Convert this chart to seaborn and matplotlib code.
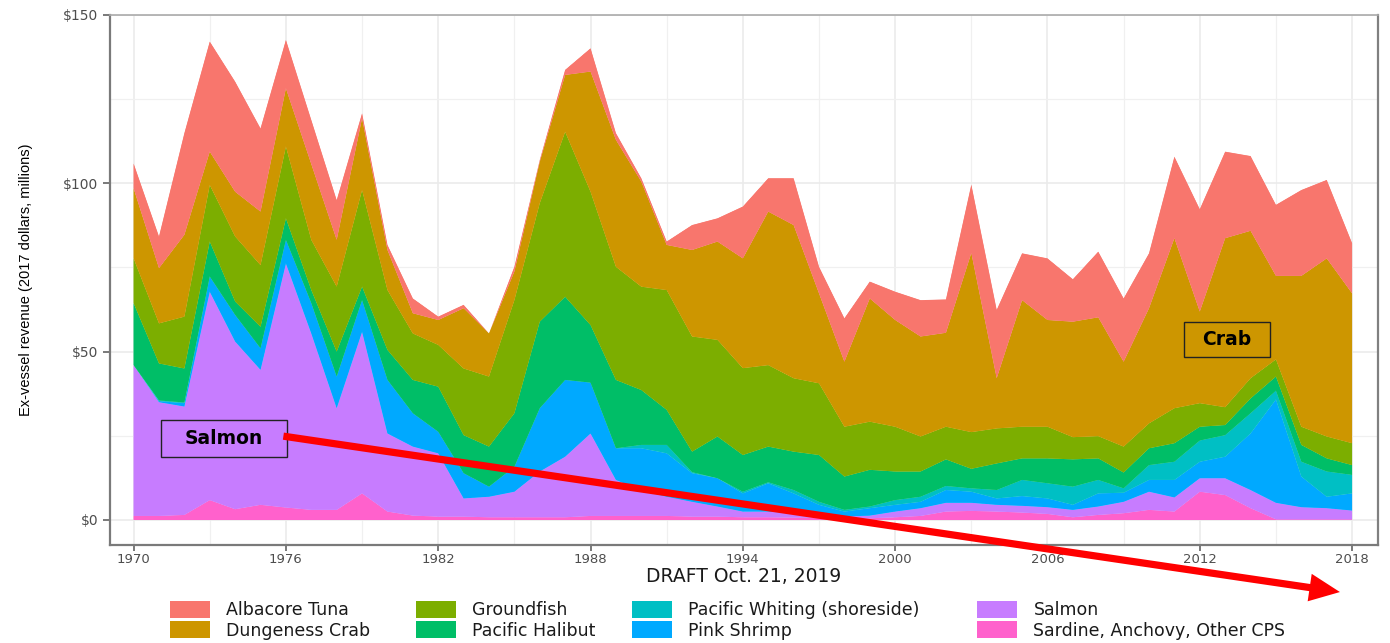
import numpy as np
import pandas as pd
import matplotlib
matplotlib.use("Agg")
import matplotlib.pyplot as plt
import matplotlib.patches as mpatches
import seaborn as sns
import seaborn.objects as so

# ---------------- data (ex-vessel revenue, 2017 $ millions) ----------------
years = list(range(1970, 2019))

sardine = [1.2, 1.2, 1.5, 5.9, 3.2, 4.5, 3.7, 3.0, 3.0, 7.9,
           2.5, 1.3, 1.0, 1.0, 0.8, 0.8, 0.8, 0.8, 1.2, 1.2,
           1.2, 1.2, 1.0, 1.0, 0.8, 0.8, 0.7, 0.6, 0.5, 0.5,
           0.8, 1.2, 2.5, 2.7, 2.5, 2.2, 1.8, 0.8, 1.5, 2.0,
           3.0, 2.5, 8.4, 7.4, 3.5, 0.2, 0.2, 0.2, 0.2]
salmon = [44.8, 33.8, 32.2, 61.9, 49.8, 40.1, 72.5, 52.4, 30.2, 48.0,
          23.2, 20.5, 18.8, 5.4, 6.1, 7.6, 13.6, 18.0, 24.5, 10.7,
          7.5, 5.7, 4.4, 3.0, 1.7, 1.7, 1.3, 0.9, 0.5, 0.8,
          1.7, 2.3, 2.6, 2.4, 2.0, 2.0, 2.0, 2.2, 2.5, 3.4,
          5.4, 4.2, 4.0, 5.0, 5.4, 4.9, 3.6, 3.3, 2.6]
shrimp = [0.0, 0.3, 1.0, 4.5, 7.9, 6.4, 7.0, 9.0, 9.4, 9.4,
          15.9, 9.9, 6.4, 7.5, 3.0, 7.4, 18.8, 22.8, 15.1, 9.4,
          12.6, 12.9, 8.5, 8.4, 5.4, 8.4, 5.9, 3.0, 1.5, 2.2,
          2.0, 1.9, 3.8, 3.3, 1.9, 2.9, 2.6, 1.5, 3.9, 2.7,
          3.5, 5.2, 4.9, 6.4, 16.8, 30.7, 9.1, 3.4, 5.1]
whiting = [0.0, 0.2, 0.2, 0.0, 0.0, 0.0, 0.0, 0.0, 0.0, 0.0,
           0.0, 0.0, 0.0, 0.0, 0.0, 0.0, 0.0, 0.0, 0.0, 0.0,
           1.0, 2.5, 0.3, 0.0, 0.5, 0.3, 1.0, 0.9, 0.5, 0.5,
           1.4, 1.5, 1.2, 1.0, 2.5, 4.8, 4.5, 5.4, 4.0, 1.3,
           4.4, 5.4, 6.3, 6.4, 6.0, 2.6, 4.4, 7.5, 5.5]
halibut = [18.4, 11.0, 10.1, 10.4, 4.0, 6.4, 6.4, 3.9, 7.4, 4.0,
           8.9, 9.9, 13.4, 11.3, 11.9, 15.9, 25.7, 24.7, 17.1, 20.3,
           16.3, 10.4, 6.1, 12.4, 10.9, 10.6, 11.4, 13.9, 9.9, 10.9,
           8.5, 7.5, 7.9, 5.8, 7.9, 6.4, 7.4, 8.1, 6.4, 4.7,
           5.0, 5.5, 4.1, 3.0, 4.4, 4.2, 5.0, 3.9, 2.9]
groundfish = [13.3, 11.9, 15.4, 16.8, 19.3, 18.3, 21.3, 14.9, 19.3, 28.7,
              17.8, 13.8, 12.4, 19.8, 20.8, 33.6, 35.2, 49.0, 39.6, 33.6,
              30.7, 35.6, 34.2, 28.7, 25.8, 24.2, 21.8, 21.3, 14.8, 14.3,
              13.3, 10.4, 9.7, 10.9, 10.4, 9.4, 9.4, 6.6, 6.6, 7.7,
              7.4, 10.4, 7.0, 5.3, 6.0, 5.1, 5.4, 6.5, 6.5]
crab = [20.8, 16.4, 24.3, 9.9, 13.3, 15.9, 17.3, 22.5, 13.9, 21.3,
        11.9, 6.0, 7.4, 17.9, 12.8, 8.5, 12.3, 16.9, 35.7, 37.7,
        31.2, 13.4, 25.7, 29.2, 32.6, 45.6, 45.5, 26.7, 19.3, 36.6,
        31.7, 29.7, 27.9, 53.2, 14.9, 37.6, 31.7, 34.3, 35.3, 25.2,
        34.2, 50.5, 27.2, 50.2, 43.8, 24.8, 44.8, 52.9, 44.5]
albacore = [7.4, 9.4, 30.2, 32.7, 32.7, 24.7, 14.4, 13.1, 11.8, 1.5,
            1.5, 4.4, 1.0, 1.0, 0.0, 1.4, 0.5, 1.5, 6.9, 2.0,
            1.0, 1.0, 7.4, 6.9, 15.4, 9.9, 13.9, 7.9, 12.9, 5.0,
            8.4, 10.8, 9.9, 20.3, 20.3, 13.9, 18.3, 12.6, 19.5, 18.8,
            16.3, 24.2, 30.4, 25.7, 22.2, 21.1, 25.5, 23.3, 14.9]

species_names = ["Albacore Tuna", "Dungeness Crab", "Groundfish", "Pacific Halibut",
                 "Pacific Whiting (shoreside)", "Pink Shrimp", "Salmon",
                 "Sardine, Anchovy, Other CPS"]
species_colors = ["#F8766D", "#CD9600", "#7CAE00", "#00BE67",
                  "#00BFC4", "#00A9FF", "#C77CFF", "#FF61CC"]
y_tick_values = [0, 50, 100, 150]
y_tick_labels = ["$0", "$50", "$100", "$150"]
x_tick_values = list(range(1970, 2019, 6))

series = dict(zip(species_names,
                  [albacore, crab, groundfish, halibut, whiting, shrimp, salmon, sardine]))
palette = dict(zip(species_names, species_colors))

# long table, stacked bottom (Sardine) -> top (Albacore)
frames = [pd.DataFrame({"year": years, "species": name, "revenue": series[name]})
          for name in reversed(species_names)]
df = pd.concat(frames, ignore_index=True)

# ---------------- style ----------------
sns.set_theme(style="white")
plt.rcParams["font.family"] = ["DejaVu Sans"]

W, H = 1390, 643
fig = plt.figure(figsize=(W / 100, H / 100), dpi=100)
ax = fig.add_axes([110 / W, 1 - 545 / H, (1378 - 110) / W, (545 - 15) / H])

(
    so.Plot(df, x="year", y="revenue", color="species")
    .add(so.Area(alpha=1, edgewidth=0.5), so.Stack(), legend=False)
    .scale(color=palette)
    .on(ax)
    .plot()
)

# ---------------- axes ----------------
ax.set_xlim(1969.07, 2019.02)
ax.set_ylim(-7.43, 150)
ax.set_xticks(x_tick_values)
ax.set_xticklabels([str(v) for v in x_tick_values])
ax.set_xticks([v + 3 for v in x_tick_values[:-1]], minor=True)
ax.set_yticks(y_tick_values)
ax.set_yticklabels(y_tick_labels)
ax.set_yticks([25, 75, 125], minor=True)
ax.set_facecolor("white")
ax.set_axisbelow(True)
ax.grid(True, which="major", color="#EBEBEB", lw=1.2)
ax.grid(True, which="minor", color="#F0F0F0", lw=0.9)

ax.tick_params(axis="both", which="major", direction="out", length=5, width=1.1,
               color="#555555", labelcolor="#4D4D4D", labelsize=10,
               bottom=True, left=True)
ax.tick_params(axis="y", which="major", pad=3.5)
ax.tick_params(axis="x", which="major", pad=2.0, length=4, labelsize=9.5)
ax.tick_params(which="minor", length=0)

for side, col, lw in [("left", "#7a7a7a", 1.6), ("bottom", "#7a7a7a", 1.6),
                      ("top", "#aaaaaa", 1.2), ("right", "#808080", 1.6)]:
    ax.spines[side].set_visible(True)
    ax.spines[side].set_color(col)
    ax.spines[side].set_linewidth(lw)

ax.set_ylabel("Ex-vessel revenue (2017 dollars, millions)", fontsize=10.5,
              family=["Liberation Sans", "DejaVu Sans"], color="black")
ax.yaxis.set_label_coords(-0.0607, 0.5)
ax.set_xlabel("DRAFT Oct. 21, 2019", fontsize=13.5, color="#1a1a1a", va="baseline")
ax.xaxis.set_label_coords(0.5, (545 - 582) / 530)

# ---------------- annotations ----------------
ax.add_patch(mpatches.Rectangle((1971.06, 18.7), 5.0, 11.0, facecolor="#C77CFF",
                                edgecolor="#222222", lw=1.0, zorder=5))
ax.text(1973.56, 24.2, "Salmon", ha="center", va="center", fontsize=13.5,
        fontweight="bold", color="black", zorder=6)
ax.add_patch(mpatches.Rectangle((2011.38, 48.4), 3.38, 10.4, facecolor="#CD9600",
                                edgecolor="#222222", lw=1.0, zorder=5))
ax.text(2013.07, 53.6, "Crab", ha="center", va="center", fontsize=13.5,
        fontweight="bold", color="black", zorder=6)

ax.annotate("", xy=(2017.52, -21.4), xytext=(1975.9, 24.9),
            arrowprops=dict(arrowstyle="simple,head_length=1.1,head_width=1.0,tail_width=0.26",
                            mutation_scale=20, color="#FF0000", lw=0,
                            shrinkA=0, shrinkB=0),
            annotation_clip=False, zorder=7)

# ---------------- legend (4 columns x 2 rows) ----------------
handles = {n: mpatches.Patch(facecolor=c, edgecolor="none") for n, c in palette.items()}
legend_cols = [(170, species_names[0:2]), (416, species_names[2:4]),
               (632, species_names[4:6]), (977, species_names[6:8])]
for xpx, labs in legend_cols:
    fig.legend([handles[l] for l in labs], labs, loc="upper left",
               bbox_to_anchor=(xpx / W, 1 - 601 / H), frameon=False,
               fontsize=12.5, handlelength=2.3, handleheight=1.1,
               handletextpad=0.95, labelspacing=0.12, borderpad=0,
               borderaxespad=0, labelcolor="#1a1a1a")

fig.savefig("out.png", dpi=100)
